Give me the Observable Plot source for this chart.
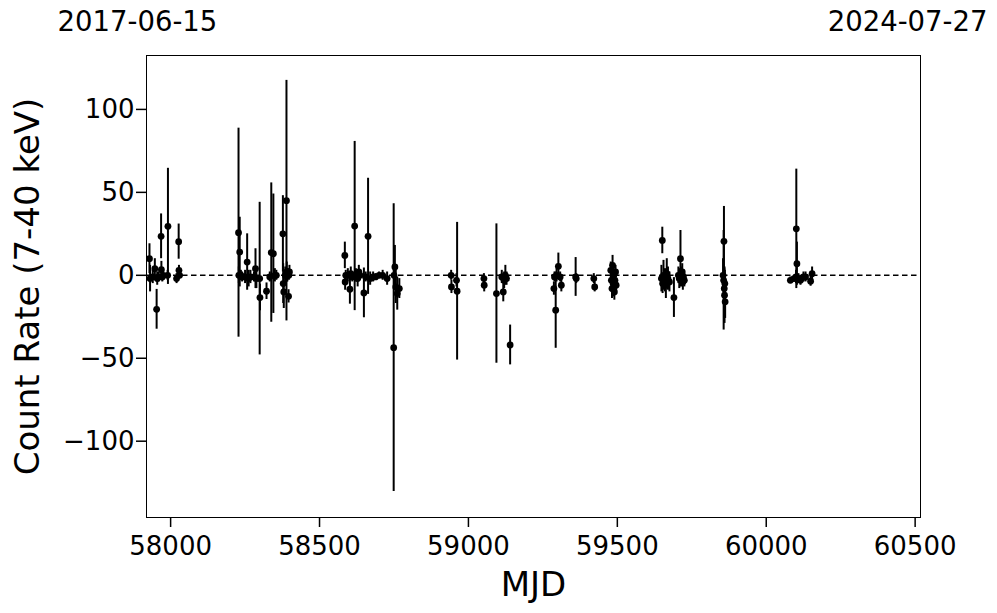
<!DOCTYPE html>
<html>
<head>
<meta charset="utf-8">
<script src="https://cdn.jsdelivr.net/npm/d3@7"></script>
<script src="https://cdn.jsdelivr.net/npm/@observablehq/plot@0.6"></script>
<style>
  html, body { margin: 0; padding: 0; background: #fff; }
  #chart svg { font-family: "DejaVu Sans", sans-serif; }
</style>
</head>
<body>
<div id="chart"></div>
<script>
// Observation epochs (MJD)
const mjd = [
  57929, 57931, 57940, 57947, 57953, 57955, 57960, 57968, 57969, 57972, 57975, 57990, 57991, 58020, 58027, 58028, 58030,
  58228, 58229, 58232, 58236, 58240, 58250, 58257, 58262, 58268, 58280, 58285, 58288, 58299, 58300, 58322, 58333, 58338, 58345, 58350, 58355,
  58377, 58378, 58380, 58385, 58389, 58390, 58392, 58394, 58396, 58397, 58399,
  58585, 58586, 58588, 58595, 58602, 58605, 58610, 58618, 58622, 58628, 58632, 58636, 58649, 58655, 58663, 58670, 58680, 58688, 58700, 58712, 58727,
  58749, 58750, 58753, 58756, 58761, 58768,
  58942, 58943, 58960, 58962,
  59052, 59053, 59094, 59112, 59117, 59120, 59124, 59128, 59140,
  59287, 59289, 59293, 59296, 59302, 59308, 59312, 59360, 59362, 59421, 59424,
  59478, 59480, 59482, 59484, 59486, 59488, 59490, 59492, 59494, 59496,
  59648, 59651, 59652, 59655, 59660, 59663, 59666, 59670, 59675, 59690, 59705, 59708, 59712, 59715, 59718, 59720, 59722, 59725,
  59855, 59857, 59858, 59859, 59860, 59861, 59862,
  60081, 60093, 60100, 60101, 60103, 60108, 60115, 60125, 60132, 60149, 60154
];
// Count rate (7-40 keV)
const rate = [
  10, -2, -1, 4, -20.5, -2, -1, 23.5, 3.4, -1, 0, 0, 29.5, -2, 20.3, 3, 0,
  25.7, 0, 14, 0, -1, -1, 8, -2, -1, -1, 4, -2, -2, -13.4, -9.6, -1, 13.7, 13, 0, 0,
  25, -5, -10, 0, 45, 2, 0, 1, -12.7, 0, 2,
  12, -4, 0, 0, -8.4, 1, -1, 29.7, 0, -2, 2, 0, -10.6, -1, 23.5, -2, -1, -1, 0, 0, -2,
  -43.6, 0, 5, -7, -11, -8,
  0, -7, -3, -9.6,
  -2, -6, -11, -1, -10, -3, 0, -2, -42,
  -8, -1, -21, 0, 5.4, -1, -6, -1, -2, -2, -7,
  3, -3, -8, 6, -5, 0, -10, -3, 2, -6,
  -2, 21, -5, 0, -3, -6, 1, -2, -4, -13.4, 0, -2, 10, -1, 2, -4, -1, -3,
  0, -3, 20.5, -8, -12, -5, -16,
  -3, -2, -1, 28, 7, -2, -3, -1, -1, -3.6, 1
];
// 1-sigma uncertainties
const rateErr = [
  9, 8, 4, 6, 12, 4, 3, 13.5, 5, 3, 2, 3, 35, 3, 10.6, 3, 2,
  63, 5, 21, 3, 3, 4, 17, 5, 4, 3, 12, 6, 46, 8, 5, 3, 42, 36, 4, 3,
  23, 12, 10, 5, 72.5, 6, 4, 3, 4, 3, 4,
  8, 5, 3, 4, 9, 4, 3, 51, 4, 5, 4, 3, 15, 3, 35, 4, 3, 2, 2, 3, 4,
  86.8, 3, 13, 10, 10, 6,
  3, 4, 4, 41.5,
  3, 4, 42, 4, 6, 5, 6, 4, 12,
  4, 3, 23, 4, 8, 3, 4, 11.7, 3, 3, 3,
  5, 7, 6, 6, 8, 5, 5, 4, 4, 4,
  8, 8, 6, 9, 7, 8, 9, 7, 6, 12, 5, 6, 17, 6, 5, 5, 4, 4,
  10, 30, 21, 12, 17, 8, 10,
  2, 2, 4, 36, 13, 3, 3, 3, 3, 3, 4
];
const xTicks = [58000, 58500, 59000, 59500, 60000, 60500];
const yTicks = [-100, -50, 0, 50, 100];
const startLabel = "2017-06-15";
const endLabel = "2024-07-27";
const xLabel = "MJD";
const yLabel = "Count Rate (7-40 keV)";

const data = mjd.map((m, i) => ({mjd: m, rate: rate[i], err: rateErr[i]}));
const minus = d => d < 0 ? "\u2212" + Math.abs(d) : String(d);

const chart = Plot.plot({
  width: 997,
  height: 613,
  marginTop: 55,
  marginBottom: 96,
  marginLeft: 146,
  marginRight: 77,
  style: {fontFamily: "DejaVu Sans, sans-serif", background: "white", color: "black"},
  x: {domain: [57919, 60518]},
  y: {domain: [-146, 132.5]},
  marks: [
    Plot.ruleY([0], {stroke: "black", strokeWidth: 1.5, strokeDasharray: "5.5,3.5"}),
    Plot.ruleX(data, {x: "mjd", y1: d => d.rate - d.err, y2: d => d.rate + d.err, stroke: "black", strokeWidth: 2}),
    Plot.dot(data, {x: "mjd", y: "rate", r: 3.4, fill: "black", stroke: "none"}),
    Plot.frame({stroke: "black", strokeWidth: 1}),
    Plot.axisX({ticks: xTicks, tickFormat: d => String(d), tickSize: 10, tickPadding: 9, fontSize: 26, label: null, strokeWidth: 1.5}),
    Plot.axisY({ticks: yTicks, tickFormat: minus, tickSize: 10, tickPadding: 2, fontSize: 26, label: null, strokeWidth: 1.5}),
    Plot.text([xLabel], {frameAnchor: "bottom", dy: 68, fontSize: 34, lineAnchor: "middle", fill: "black"}),
    Plot.text([yLabel], {frameAnchor: "left", dx: -118, rotate: -90, fontSize: 34, lineAnchor: "middle", textAnchor: "middle", fill: "black"}),
    Plot.text([startLabel], {frameAnchor: "top-left", textAnchor: "start", dx: -89, dy: -33, fontSize: 27.5, lineAnchor: "middle", fill: "black"}),
    Plot.text([endLabel], {frameAnchor: "top-right", textAnchor: "end", dx: 67, dy: -33, fontSize: 27.5, lineAnchor: "middle", fill: "black"})
  ]
});
document.getElementById("chart").appendChild(chart);
</script>
</body>
</html>
